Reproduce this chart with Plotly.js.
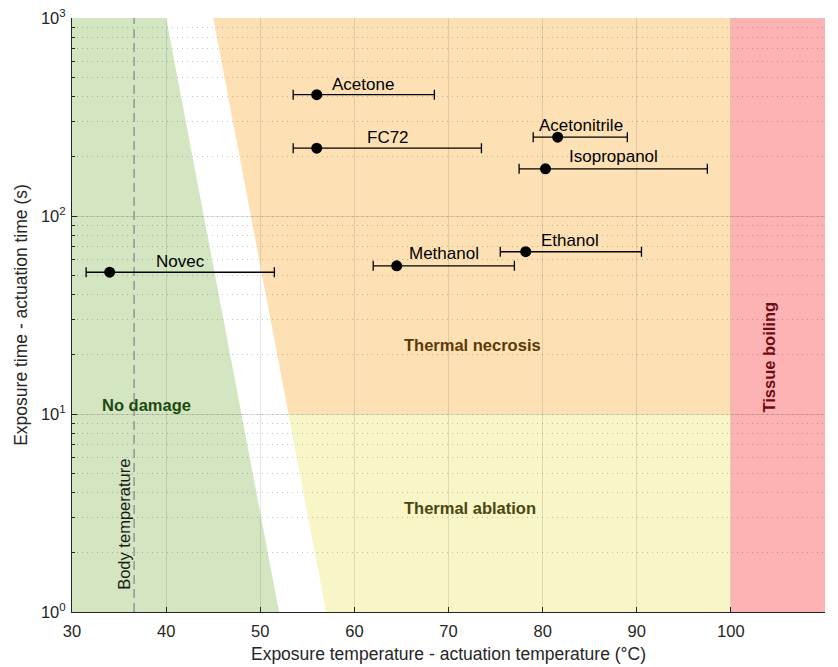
<!DOCTYPE html>
<html>
<head>
<meta charset="utf-8">
<script src="https://cdn.plot.ly/plotly-3.0.1.min.js"></script>
<style>html,body{margin:0;padding:0;background:#fff;}#chart{width:838px;height:667px;}</style>
</head>
<body>
<div id="chart"></div>
<script>
// ---- data ----
const solvents = ['Acetone', 'FC72', 'Acetonitrile', 'Isopropanol', 'Ethanol', 'Methanol', 'Novec'];
const tempMean = [56.0, 56.0, 81.6, 80.3, 78.2, 64.5, 34.0];
const tempLow = [53.5, 53.5, 79.0, 77.5, 75.5, 62.0, 31.5];
const tempHigh = [68.5, 73.5, 89.0, 97.5, 90.5, 77.0, 51.5];
const exposureTime = [410, 220, 250, 173, 66, 56, 52];

const noDamageX = [30, 40, 52, 30];
const noDamageY = [1000, 1000, 1, 1];
const necrosisX = [45, 100, 100, 53];
const necrosisY = [1000, 1000, 10, 10];
const ablationX = [53, 100, 100, 57];
const ablationY = [10, 10, 1, 1];
const boilingX = [100, 110, 110, 100];
const boilingY = [1000, 1000, 1, 1];

const bodyTemperature = 36.6;

const regionNames = ['No damage', 'Thermal necrosis', 'Thermal ablation', 'Tissue boiling'];
const regionLabelX = [37.9, 72.5, 72.3, 104.0];
const regionLabelY = [11.1, 22.3, 3.34, 19.4];

const xTickVals = [30, 40, 50, 60, 70, 80, 90, 100, 110];
const yTickVals = [1, 10, 100, 1000];
const yTickText = ['10<sup>0</sup>', '10<sup>1</sup>', '10<sup>2</sup>', '10<sup>3</sup>'];

// ---- styling (not data) ----
const regionFill = ['#D3E6C1', '#FDE1B4', '#F8F5C6', '#FDB3B4'];
const regionText = ['#1E4A10', '#5A3A06', '#4A4712', '#6E0B16'];
const regionAngle = [0, 0, 0, -90];
const labelShift = [[46, 10], [71, 11], [23, 12], [68, 12], [44, 11], [47, 12], [71, 11]];

function pathFrom(xs, ys) {
  return xs.map((x, i) => (i === 0 ? 'M' : 'L') + x + ',' + ys[i]).join(' ') + ' Z';
}

const regionsX = [noDamageX, necrosisX, ablationX, boilingX];
const regionsY = [noDamageY, necrosisY, ablationY, boilingY];
const shapes = regionsX.map((xs, k) => ({
  type: 'path', xref: 'x', yref: 'y', layer: 'below',
  path: pathFrom(xs, regionsY[k]),
  fillcolor: regionFill[k], line: {width: 0}
}));

const traces = [
  {
    x: [bodyTemperature, bodyTemperature], y: [1, 1000],
    mode: 'lines', line: {color: '#9a9a9a', width: 1.6, dash: '9px,5px'},
    hoverinfo: 'skip', showlegend: false
  },
  {
    x: tempMean, y: exposureTime, mode: 'markers', type: 'scatter',
    marker: {color: '#000', size: 11},
    error_x: {
      type: 'data', symmetric: false,
      array: tempHigh.map((h, i) => h - tempMean[i]),
      arrayminus: tempLow.map((l, i) => tempMean[i] - l),
      color: '#000', thickness: 1.3, width: 5
    },
    showlegend: false, hoverinfo: 'skip'
  }
];

const annotations = [];
solvents.forEach((s, i) => annotations.push({
  x: tempMean[i], y: Math.log10(exposureTime[i]), xref: 'x', yref: 'y',
  text: s, showarrow: false, xanchor: 'center', yanchor: 'middle',
  xshift: labelShift[i][0], yshift: labelShift[i][1],
  font: {family: 'Liberation Sans, Arial, sans-serif', size: 17, color: '#000'}
}));
regionNames.forEach((s, k) => annotations.push({
  x: regionLabelX[k], y: Math.log10(regionLabelY[k]), xref: 'x', yref: 'y',
  text: '<b>' + s + '</b>', showarrow: false, textangle: regionAngle[k],
  xanchor: 'center', yanchor: 'middle',
  font: {family: 'Liberation Sans, Arial, sans-serif', size: 16.5, color: regionText[k]}
}));
annotations.push({
  x: bodyTemperature, y: Math.log10(2.76), xref: 'x', yref: 'y',
  text: 'Body temperature', showarrow: false, textangle: -90,
  xanchor: 'center', yanchor: 'middle', xshift: -10,
  font: {family: 'Liberation Sans, Arial, sans-serif', size: 16.5, color: '#1a1a1a'}
});

const layout = {
  width: 838, height: 667,
  margin: {l: 72, r: 13, t: 18, b: 55},
  paper_bgcolor: '#fff', plot_bgcolor: '#fff',
  font: {family: 'Liberation Sans, Arial, sans-serif', size: 16.5, color: '#262626'},
  showlegend: false,
  shapes: shapes,
  annotations: annotations,
  xaxis: {
    range: [30, 110], tickvals: xTickVals, ticktext: xTickVals.map(String),
    ticks: 'inside', ticklen: 5, tickcolor: '#262626', ticklabelstandoff: 4,
    showline: true, linecolor: '#262626', linewidth: 1, mirror: false,
    showgrid: true, gridcolor: 'rgba(0,0,0,0.11)', gridwidth: 1, zeroline: false,
    title: {text: 'Exposure temperature - actuation temperature (°C)', font: {size: 17.5, color: '#262626'}, standoff: 8},
    tickfont: {size: 16.5, color: '#262626'}
  },
  yaxis: {
    type: 'log', range: [0, 3], tickvals: yTickVals, ticktext: yTickText,
    ticks: 'inside', ticklen: 5, tickcolor: '#262626', ticklabelstandoff: 2,
    showline: true, linecolor: '#262626', linewidth: 1,
    showgrid: true, gridcolor: 'rgba(0,0,0,0.11)', gridwidth: 1, zeroline: false,
    minor: {dtick: 'D1', ticks: 'inside', ticklen: 3, tickcolor: '#262626', showgrid: true, gridcolor: 'rgba(0,0,0,0.22)', griddash: '1px,4px', gridwidth: 1},
    title: {text: 'Exposure time - actuation time (s)', font: {size: 17.5, color: '#262626'}, standoff: 8},
    tickfont: {size: 16.5, color: '#262626'}
  }
};

Plotly.newPlot('chart', traces, layout, {displayModeBar: false, staticPlot: true});
</script>
</body>
</html>
